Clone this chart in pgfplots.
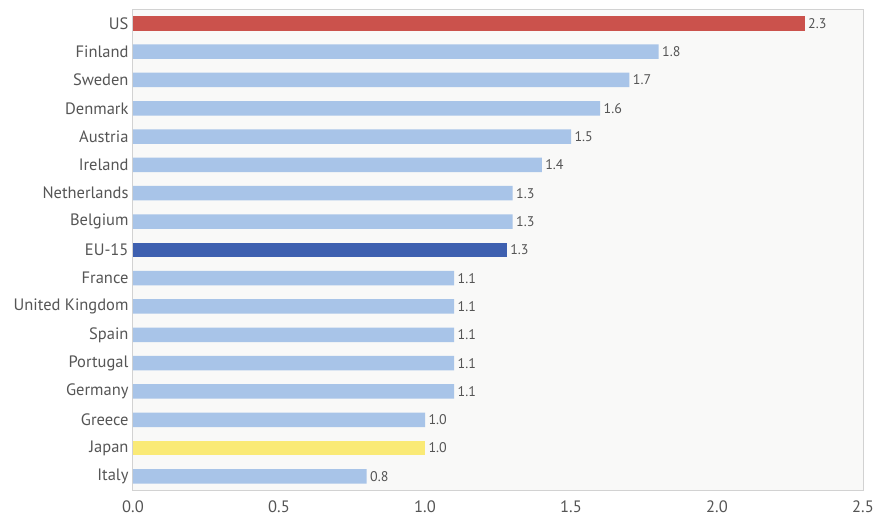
\documentclass[border=0pt]{standalone}
\usepackage{pgfplots}
\pgfplotsset{compat=1.18}
\usepackage{fontspec}
\setmainfont{PT Sans}
\definecolor{usred}{RGB}{203,82,76}
\definecolor{lblue}{RGB}{168,196,232}
\definecolor{eublue}{RGB}{62,96,176}
\definecolor{jyellow}{RGB}{250,234,118}
\definecolor{txtgray}{RGB}{85,85,85}
\definecolor{framegray}{RGB}{210,210,210}
\definecolor{bggray}{RGB}{249,249,248}
\begin{document}
\begin{tikzpicture}
\begin{axis}[
  scale only axis,
  width=730pt, height=480pt,
  xmin=0, xmax=2.5,
  ymin=-0.48, ymax=16.47,
  xbar, bar width=14.5pt, bar shift=0pt,
  axis background/.style={fill=bggray},
  axis line style={framegray, line width=1pt},
  xtick={0,0.5,1,1.5,2,2.5},
  /pgf/number format/assume math mode=true,
  ytick={0,...,16},
  yticklabels={Italy,Japan,Greece,Germany,Portugal,Spain,United Kingdom,France,EU-15,Belgium,Netherlands,Ireland,Austria,Denmark,Sweden,Finland,US},
  major tick length=0pt,
  tick label style={font=\fontsize{16.5}{18}\selectfont, text=txtgray},
  xticklabel style={yshift=-7pt, /pgf/number format/fixed, /pgf/number format/fixed zerofill, /pgf/number format/precision=1},
  yticklabel style={xshift=-1pt},
  nodes near coords,
  every node near coord/.append style={font=\fontsize{14}{16}\selectfont, text=txtgray,
     /pgf/number format/fixed, /pgf/number format/fixed zerofill, /pgf/number format/precision=1},
  clip=false,
]
\addplot[draw=none, fill=lblue] coordinates {
 (0.8,0) (1.0,2) (1.1,3) (1.1,4) (1.1,5) (1.1,6) (1.1,7)
 (1.3,9) (1.3,10) (1.4,11) (1.5,12) (1.6,13) (1.7,14) (1.8,15)};
\addplot[draw=none, fill=jyellow] coordinates {(1.0,1)};
\addplot[draw=none, fill=eublue] coordinates {(1.28,8)};
\addplot[draw=none, fill=usred] coordinates {(2.3,16)};
\end{axis}
\pgfresetboundingbox
\path (current axis.south west) ++(-133pt,-35pt) rectangle ++(881pt,525pt);
\end{tikzpicture}
\end{document}
